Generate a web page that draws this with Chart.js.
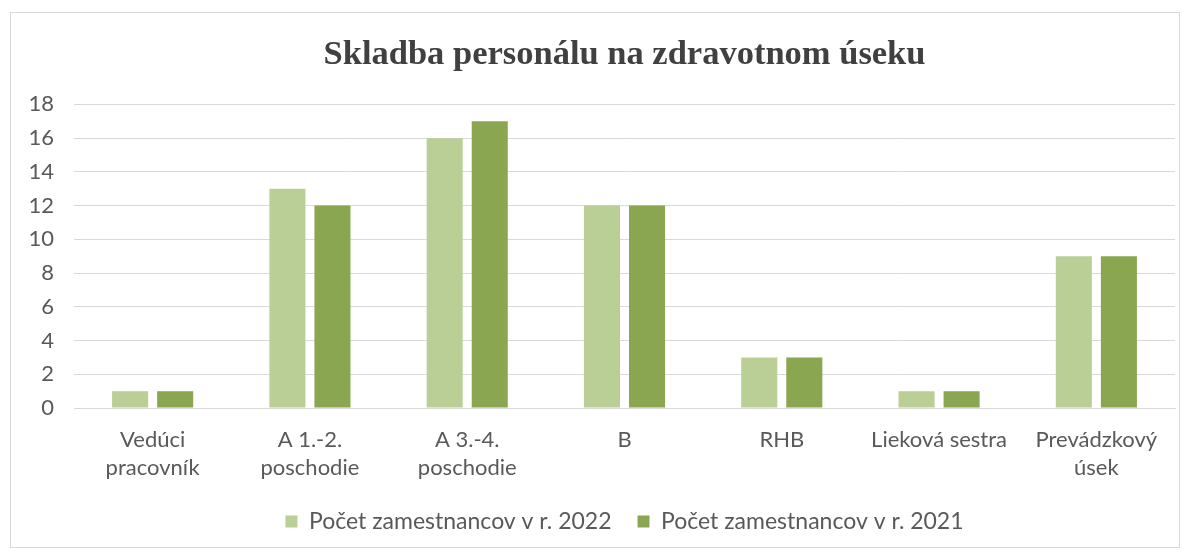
<!DOCTYPE html>
<html>
<head>
<meta charset="utf-8">
<script src="https://cdn.jsdelivr.net/npm/chart.js@4.4.0/dist/chart.umd.min.js"></script>
<style>
    html, body { margin: 0; padding: 0; background: #fff; }
    #frame {
        position: absolute;
        left: 10px;
        top: 12px;
        width: 1168px;
        height: 534px;
        border: 1px solid #d9d9d9;
    }
    canvas { display: block; }
</style>
</head>
<body>
<div id="frame"><canvas id="chart" width="1168" height="534"></canvas></div>
<script>
// Chart data
const categories = [
    ['Vedúci', 'pracovník'],
    ['A 1.-2.', 'poschodie'],
    ['A 3.-4.', 'poschodie'],
    'B',
    'RHB',
    'Lieková sestra',
    ['Prevádzkový', 'úsek']
];
const seriesNames = ['Počet zamestnancov v r. 2022', 'Počet zamestnancov v r. 2021'];
const values2022 = [1, 13, 16, 12, 3, 1, 9];
const values2021 = [1, 12, 17, 12, 3, 1, 9];
const yTicks = [0, 2, 4, 6, 8, 10, 12, 14, 16, 18];

const textColor = '#595959';
const gridColor = '#d9d9d9';
const labelFont = 'Lato, "Open Sans", sans-serif';

const ctx = document.getElementById('chart');
new Chart(ctx, {
    type: 'bar',
    data: {
        labels: categories,
        datasets: [{
            label: seriesNames[0],
            data: values2022,
            backgroundColor: '#b9cf96',
            categoryPercentage: 0.573,
            barPercentage: 0.8
        }, {
            label: seriesNames[1],
            data: values2021,
            backgroundColor: '#8aa650',
            categoryPercentage: 0.573,
            barPercentage: 0.8
        }]
    },
    options: {
        responsive: false,
        animation: false,
        layout: {
            padding: { left: 0, right: 4, top: 21, bottom: 4 }
        },
        plugins: {
            title: {
                display: true,
                fullSize: false,
                text: 'Skladba personálu na zdravotnom úseku',
                color: '#404040',
                font: { family: '"Liberation Serif", "Times New Roman", serif', size: 34.5, weight: 'bold', lineHeight: 1.2 },
                padding: { top: 0, bottom: 29 }
            },
            legend: {
                position: 'bottom',
                fullSize: false,
                labels: {
                    color: textColor,
                    font: { family: labelFont, size: 23 },
                    boxWidth: 12,
                    boxHeight: 12,
                    padding: 26
                }
            },
            tooltip: { enabled: false }
        },
        scales: {
            x: {
                afterFit: function(scale) { scale.height = 76; },
                grid: { display: false, drawTicks: false },
                border: { color: gridColor, width: 1 },
                ticks: {
                    color: textColor,
                    font: { family: labelFont, size: 22, lineHeight: 1.27 },
                    padding: 18,
                    maxRotation: 0,
                    autoSkip: false
                }
            },
            y: {
                min: 0,
                max: 18,
                afterFit: function(scale) { scale.width = 63; },
                afterBuildTicks: function(scale) {
                    scale.ticks = yTicks.map(v => ({ value: v }));
                },
                grid: { color: gridColor, lineWidth: 1, drawTicks: false },
                border: { display: false },
                ticks: {
                    color: textColor,
                    font: { family: labelFont, size: 22 },
                    padding: 20
                }
            }
        }
    }
});
</script>
</body>
</html>
